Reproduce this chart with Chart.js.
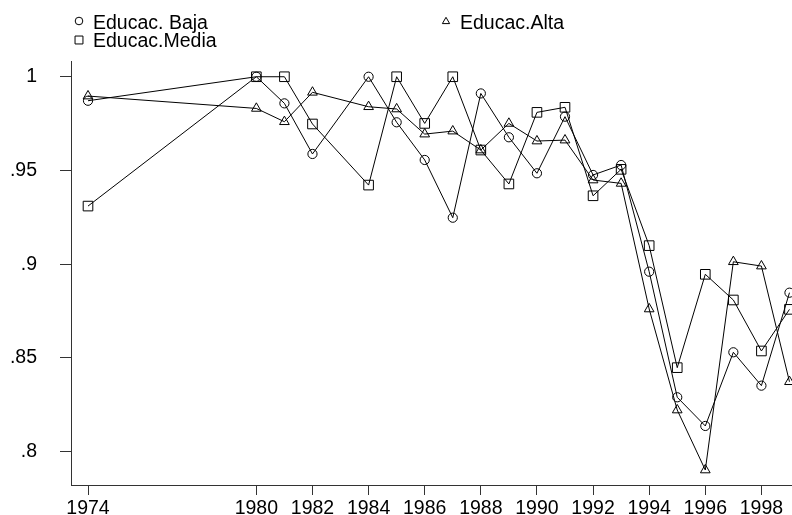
<!DOCTYPE html>
<html>
<head>
<meta charset="utf-8">
<script src="https://cdn.jsdelivr.net/npm/chart.js@4/dist/chart.umd.min.js"></script>
<style>
  html, body { margin: 0; padding: 0; background: #fff; }
  #c { display: block; }
</style>
</head>
<body>
<canvas id="c" width="792" height="515"></canvas>
<script>
const years = [1974, 1980, 1981, 1982, 1984, 1985, 1986, 1987, 1988, 1989, 1990, 1991, 1992, 1993, 1994, 1995, 1996, 1997, 1998, 1999];
const educBaja  = [0.9872, 1.0000, 0.9858, 0.9588, 1.0000, 0.9757, 0.9556, 0.9248, 0.9911, 0.9677, 0.9485, 0.9787, 0.9476, 0.9529, 0.8960, 0.8290, 0.8137, 0.8530, 0.8352, 0.8848];
const educAlta  = [0.9897, 0.9831, 0.9760, 0.9917, 0.9840, 0.9828, 0.9694, 0.9710, 0.9609, 0.9751, 0.9657, 0.9662, 0.9449, 0.9431, 0.8761, 0.8222, 0.7902, 0.9013, 0.8990, 0.8373];
const educMedia = [0.9310, 1.0000, 1.0000, 0.9748, 0.9422, 1.0000, 0.9751, 1.0000, 0.9609, 0.9428, 0.9810, 0.9837, 0.9365, 0.9506, 0.9099, 0.8448, 0.8946, 0.8809, 0.8537, 0.8759];
const seriesLabels = ['Educac. Baja', 'Educac.Alta', 'Educac.Media'];
const xTickValues = [1974, 1980, 1982, 1984, 1986, 1988, 1990, 1992, 1994, 1996, 1998];
const yTickValues = [0.8, 0.85, 0.9, 0.95, 1];
const yTickLabels = ['.8', '.85', '.9', '.95', '1'];

const FONT = 'Liberation Sans, Arial, Helvetica, sans-serif';
const AXIS = '#333';

function toXY(vals) { return years.map((y, i) => ({ x: y, y: vals[i] })); }

function ds(label, vals, style, radius) {
  return {
    label: label,
    data: toXY(vals),
    borderColor: '#000',
    borderWidth: 1,
    backgroundColor: 'rgba(0,0,0,0)',
    pointStyle: style,
    pointRadius: radius,
    pointHoverRadius: radius,
    pointBorderColor: '#000',
    pointBackgroundColor: 'rgba(0,0,0,0)',
    pointBorderWidth: 1,
    tension: 0,
    spanGaps: true
  };
}

const legendPlugin = {
  id: 'customLegend',
  afterDraw(chart) {
    const ctx = chart.ctx;
    ctx.save();
    ctx.lineWidth = 1;
    ctx.font = '19.5px ' + FONT;
    ctx.textAlign = 'left';
    ctx.textBaseline = 'alphabetic';
    const items = [
      { label: seriesLabels[0], style: 'circle',   r: 3.8, mx: 79,  my: 21,   tx: 93,  ty: 28.5 },
      { label: seriesLabels[1], style: 'triangle', r: 4.2, mx: 446, my: 21.5, tx: 460, ty: 28.5 },
      { label: seriesLabels[2], style: 'rect',     r: 5.6, mx: 79,  my: 40,   tx: 93,  ty: 46.5 }
    ];
    items.forEach(it => {
      ctx.strokeStyle = '#000';
      ctx.fillStyle = 'rgba(0,0,0,0)';
      Chart.helpers.drawPoint(ctx, { pointStyle: it.style, radius: it.r, rotation: 0, borderWidth: 1 }, it.mx, it.my);
      ctx.fillStyle = '#000';
      ctx.fillText(it.label, it.tx, it.ty);
    });
    ctx.restore();
  }
};

new Chart(document.getElementById('c'), {
  type: 'line',
  data: {
    datasets: [
      ds(seriesLabels[0], educBaja, 'circle', 4.6),
      ds(seriesLabels[1], educAlta, 'triangle', 5.6),
      ds(seriesLabels[2], educMedia, 'rect', 6.8)
    ]
  },
  options: {
    responsive: false,
    animation: false,
    events: [],
    layout: { autoPadding: false, padding: { top: 61, right: 0, left: 0, bottom: 0 } },
    plugins: { legend: { display: false }, tooltip: { enabled: false } },
    scales: {
      x: {
        type: 'linear',
        min: 1973.394,
        max: 1999.09,
        afterBuildTicks(scale) { scale.ticks = xTickValues.map(v => ({ value: v })); },
        afterFit(scale) { scale.height = 30; scale.paddingLeft = 0; scale.paddingRight = 0; },
        ticks: {
          autoSkip: false,
          maxRotation: 0,
          color: '#000',
          padding: 2,
          font: { family: FONT, size: 19.5 },
          callback: (v) => String(v)
        },
        grid: { display: true, drawOnChartArea: false, drawTicks: true, tickLength: 10, color: AXIS, tickWidth: 1 },
        border: { display: true, color: AXIS, width: 1 }
      },
      y: {
        type: 'linear',
        min: 0.7822,
        max: 1.0084,
        afterBuildTicks(scale) { scale.ticks = yTickValues.map(v => ({ value: v })); },
        afterFit(scale) { scale.width = 71; scale.paddingTop = 0; scale.paddingBottom = 0; },
        ticks: {
          autoSkip: false,
          color: '#000',
          padding: 23,
          font: { family: FONT, size: 19.5 },
          callback: (v) => {
            const i = yTickValues.findIndex(t => Math.abs(t - v) < 1e-9);
            return i >= 0 ? yTickLabels[i] : '';
          }
        },
        grid: { display: true, drawOnChartArea: false, drawTicks: true, tickLength: 11, color: AXIS, tickWidth: 1 },
        border: { display: true, color: AXIS, width: 1 }
      }
    }
  },
  plugins: [legendPlugin]
});
</script>
</body>
</html>
